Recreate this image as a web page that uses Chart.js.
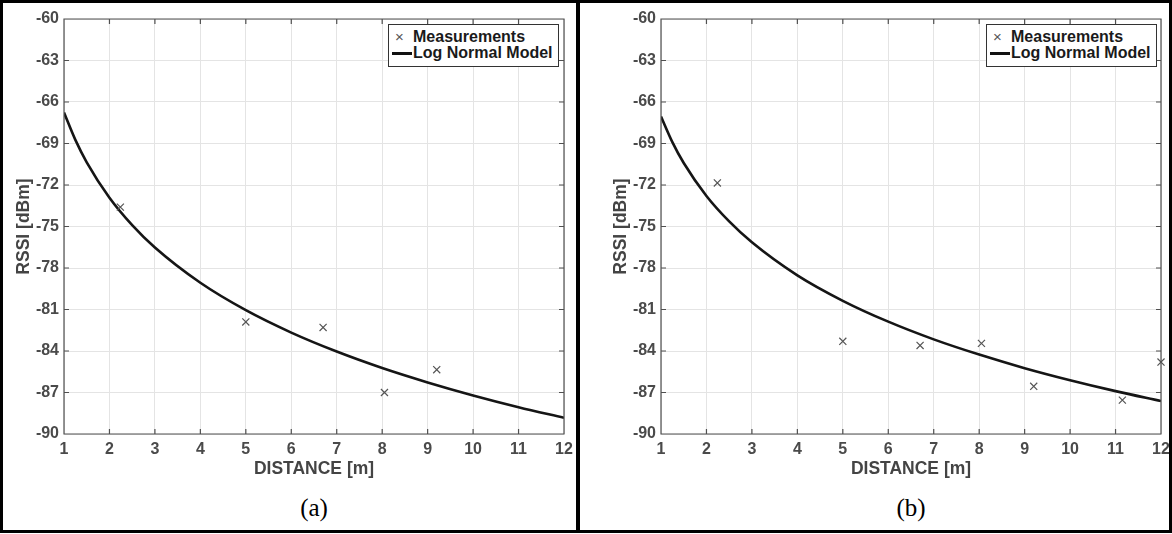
<!DOCTYPE html>
<html>
<head>
<meta charset="utf-8">
<script src="https://cdn.jsdelivr.net/npm/chart.js@4.4.1/dist/chart.umd.min.js"></script>
<style>
  html, body { margin: 0; padding: 0; background: #fff; }
  #fig { position: relative; width: 1172px; height: 534px; overflow: hidden; font-family: "Liberation Sans", Arial, sans-serif; }
  canvas { position: absolute; top: 0; }
  #chart-a { left: 0; }
  #chart-b { left: 597px; }
  .frame { position: absolute; top: 0; height: 533px; border: 3px solid #000; box-sizing: border-box; }
  .caption { position: absolute; top: 493px; width: 80px; margin-left: -40px; height: 30px; line-height: 30px; text-align: center;
             font-family: "Liberation Serif", "Times New Roman", serif; font-size: 25px; color: #000; }
  .legend { position: absolute; top: 24px; width: 171px; height: 43px; box-sizing: border-box;
            border: 1px solid #333; background: #fff; font-weight: bold; font-size: 16px; color: #1a1a1a; }
  .legend .row { position: absolute; left: 24px; height: 18px; line-height: 18px; white-space: nowrap; }
  .legend .mark { position: absolute; left: 6px; top: 3px; font-size: 15px; font-weight: normal; color: #555; line-height: 18px; }
  .legend .line { position: absolute; left: 3px; top: 27px; width: 20px; height: 2.5px; background: #111; }
</style>
</head>
<body>
<div id="fig">
  <canvas id="chart-a" width="578" height="480"></canvas>
  <canvas id="chart-b" width="575" height="480"></canvas>

  <div class="legend" style="left:388px">
    <span class="mark">×</span><div class="row" style="top:3px">Measurements</div>
    <div class="line"></div><div class="row" style="top:19px">Log Normal Model</div>
  </div>
  <div class="legend" style="left:986px">
    <span class="mark">×</span><div class="row" style="top:3px">Measurements</div>
    <div class="line"></div><div class="row" style="top:19px">Log Normal Model</div>
  </div>

  <div class="caption" style="left:314px">(a)</div>
  <div class="caption" style="left:911px">(b)</div>

  <div class="frame" style="left:0; width:580px"></div>
  <div class="frame" style="left:576px; width:596px"></div>
</div>

<script>
// Distance / RSSI readings for both panels

const xTicks = [1, 2, 3, 4, 5, 6, 7, 8, 9, 10, 11, 12];
const yTicks = [-90, -87, -84, -81, -78, -75, -72, -69, -66, -63, -60];

// (a) measurements
const distA = [2.24, 5.0, 6.7, 8.05, 9.2];
const rssiA = [-73.6, -81.9, -82.3, -87.0, -85.35];

// (b) measurements
const distB = [2.24, 5.0, 6.7, 8.05, 9.2, 11.15, 12.0];
const rssiB = [-71.85, -83.3, -83.6, -83.45, -86.55, -87.55, -84.8];

// log normal model curves
const modelDist = [1, 1.25, 1.5, 2, 2.5, 3, 4, 5, 6, 7, 8, 9, 10, 11, 12];
const modelA = [-66.76, -68.74, -70.36, -72.92, -74.9, -76.52, -79.07, -81.05, -82.67, -84.04, -85.23, -86.27, -87.21, -88.06, -88.83];
const modelB = [-67.05, -68.9, -70.41, -72.79, -74.63, -76.14, -78.53, -80.37, -81.88, -83.16, -84.26, -85.24, -86.11, -86.9, -87.62];

const axisColor = "#505050";
const labelColor = "#4a4a4a";

function toPoints(xs, ys) {
  return xs.map((x, i) => ({ x: x, y: ys[i] }));
}

// box around the plot area with inward ticks, like the original figure
const boxTicks = {
  id: "boxTicks",
  afterDatasetsDraw(chart) {
    const { ctx, chartArea: a, scales } = chart;
    const len = 5;
    ctx.save();
    ctx.strokeStyle = axisColor;
    ctx.lineWidth = 1.2;
    ctx.beginPath();
    ctx.rect(a.left, a.top, a.right - a.left, a.bottom - a.top);
    xTicks.forEach((v) => {
      const px = scales.x.getPixelForValue(v);
      ctx.moveTo(px, a.bottom); ctx.lineTo(px, a.bottom - len);
      ctx.moveTo(px, a.top); ctx.lineTo(px, a.top + len);
    });
    yTicks.forEach((v) => {
      const py = scales.y.getPixelForValue(v);
      ctx.moveTo(a.left, py); ctx.lineTo(a.left + len, py);
      ctx.moveTo(a.right, py); ctx.lineTo(a.right - len, py);
    });
    ctx.stroke();
    ctx.restore();
  }
};

function makeChart(id, dist, rssi, model, padRight) {
  const ctx = document.getElementById(id);
  return new Chart(ctx, {
    type: "scatter",
    data: {
      datasets: [
        {
          label: "Measurements",
          data: toPoints(dist, rssi),
          pointStyle: "crossRot",
          pointRadius: 5,
          pointBorderColor: "#555",
          pointBorderWidth: 1.2,
          showLine: false,
          clip: false,
          order: 1,
        },
        {
          label: "Log Normal Model",
          data: toPoints(modelDist, model),
          showLine: true,
          borderColor: "#151515",
          borderWidth: 2.6,
          pointRadius: 0,
          cubicInterpolationMode: "monotone",
          order: 2,
        },
      ],
    },
    options: {
      responsive: false,
      animation: false,
      layout: { padding: { top: 19, right: padRight, bottom: 0, left: 0 } },
      plugins: { legend: { display: false }, tooltip: { enabled: false } },
      scales: {
        x: {
          type: "linear",
          min: 1,
          max: 12,
          afterBuildTicks: (s) => { s.ticks = xTicks.map((v) => ({ value: v })); },
          afterFit: (s) => { s.height = 46; s.paddingRight = 0; s.paddingLeft = 0; },
          grid: { color: "#e4e4e4", drawTicks: false },
          border: { display: false },
          ticks: { padding: 6, color: labelColor, font: { family: "Liberation Sans", size: 16, weight: "bold" } },
          title: {
            display: true,
            text: "DISTANCE [m]",
            color: "#444",
            padding: { top: 0, bottom: 0 },
            font: { family: "Liberation Sans", size: 17.5, weight: "bold" },
          },
        },
        y: {
          min: -90,
          max: -60,
          afterBuildTicks: (s) => { s.ticks = yTicks.map((v) => ({ value: v })); },
          afterFit: (s) => { s.width = 64; },
          grid: { color: "#e4e4e4", drawTicks: false },
          border: { display: false },
          ticks: { padding: 5, color: labelColor, font: { family: "Liberation Sans", size: 16, weight: "bold" } },
          title: {
            display: true,
            text: "RSSI [dBm]",
            color: "#444",
            padding: { top: 14, bottom: 0 },
            font: { family: "Liberation Sans", size: 17.5, weight: "bold" },
          },
        },
      },
    },
    plugins: [boxTicks],
  });
}

makeChart("chart-a", distA, rssiA, modelA, 14);
makeChart("chart-b", distB, rssiB, modelB, 11);
</script>
</body>
</html>
